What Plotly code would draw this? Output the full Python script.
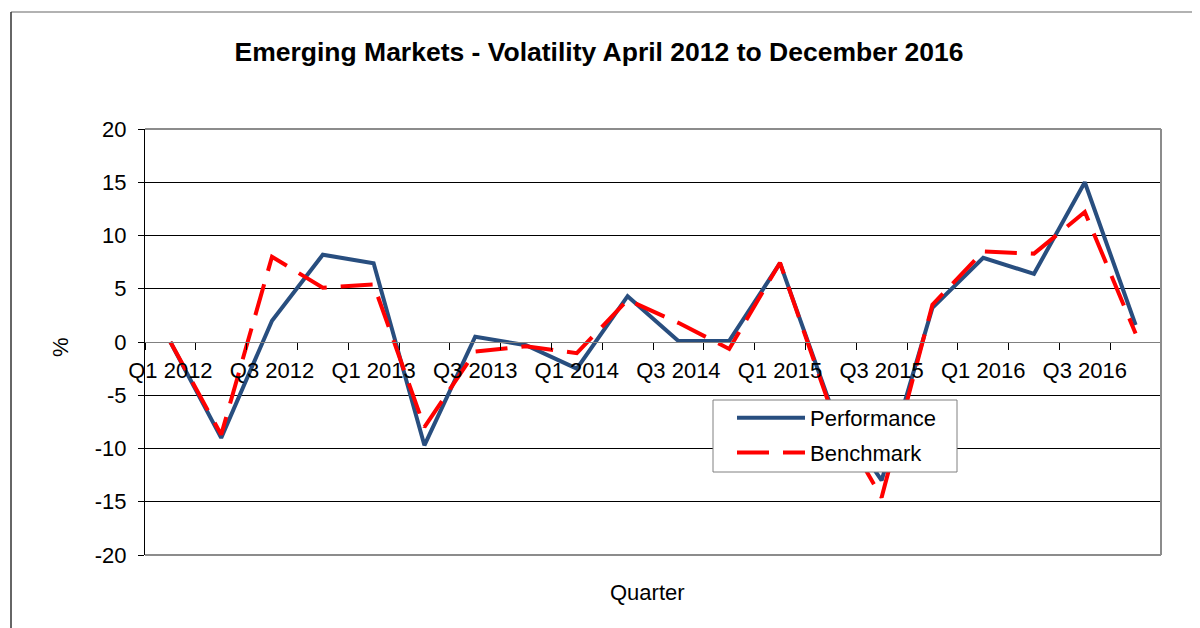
import plotly.graph_objects as go

quarters = ["Q1 2012", "Q2 2012", "Q3 2012", "Q4 2012",
            "Q1 2013", "Q2 2013", "Q3 2013", "Q4 2013",
            "Q1 2014", "Q2 2014", "Q3 2014", "Q4 2014",
            "Q1 2015", "Q2 2015", "Q3 2015", "Q4 2015",
            "Q1 2016", "Q2 2016", "Q3 2016", "Q4 2016"]
performance = [0.0, -9.0, 2.0, 8.2, 7.4, -9.7, 0.5, -0.3, -2.5, 4.3,
               0.1, 0.1, 7.4, -6.0, -13.0, 3.2, 7.9, 6.4, 15.0, 1.6]
benchmark = [0.0, -8.7, 8.0, 5.1, 5.4, -8.0, -0.9, -0.4, -1.05, 3.95,
             1.8, -0.65, 7.45, -6.3, -14.6, 3.5, 8.5, 8.3, 12.2, 0.8]
y_ticks = [-20, -15, -10, -5, 0, 5, 10, 15, 20]
y_tick_labels = ["-20", "-15", "-10", "-5", "0", "5", "10", "15", "20"]

FONT = "Liberation Sans, Arial, sans-serif"
FS = 22
idx = list(range(len(quarters)))
label_idx = idx[::2]
boundaries = [i - 0.5 for i in range(len(quarters) + 1)]

# page offset (browser body margin) compensation
OFF = 8
PL, PT, PW, PH = 145, 129, 1016, 426  # plot area in reference pixels


def px(x):
    return (x - PL) / PW


def py(y):
    return (PT + PH - y) / PH


fig = go.Figure()
fig.add_trace(go.Scatter(x=idx, y=performance, mode="lines", name="Performance",
                         legendgroup="a",
                         line=dict(color="#284E7F", width=4)))
fig.add_trace(go.Scatter(x=idx, y=benchmark, mode="lines", name="Benchmark",
                         legendgroup="b",
                         line=dict(color="#FF0000", width=4, dash="32px,14px")))

fig.update_layout(
    width=1200, height=628,
    margin=dict(l=PL - OFF, r=1200 - (PL - OFF) - PW, t=PT - OFF, b=628 - (PT - OFF) - PH),
    paper_bgcolor="white", plot_bgcolor="white",
    font=dict(family=FONT, size=FS, color="black"),
    title=dict(text="<b>Emerging Markets - Volatility April 2012 to December 2016</b>",
               x=(599 - OFF) / 1200, xanchor="center", y=1 - (52 - OFF) / 628, yanchor="middle",
               font=dict(family=FONT, size=26.5, color="black")),
    showlegend=True,
    legend=dict(x=px(732), y=py(397), xanchor="left", yanchor="top",
                bgcolor="rgba(0,0,0,0)", borderwidth=0, tracegroupgap=3,
                font=dict(family=FONT, size=FS, color="black"), itemwidth=68),
    xaxis=dict(range=[-0.5, len(quarters) - 0.5], tickmode="array",
               tickvals=label_idx, ticktext=[quarters[i] for i in label_idx],
               ticks="", showgrid=False, zeroline=False,
               showline=True, linecolor="#808080", linewidth=1,
               anchor="free", position=0.5, ticklabelstandoff=9,
               tickfont=dict(family=FONT, size=FS, color="black"),
               minor=dict(tickmode="array", tickvals=boundaries, ticks="outside",
                          ticklen=7, tickcolor="black", tickwidth=1, showgrid=False)),
    yaxis=dict(range=[-20, 20], tickmode="array", tickvals=y_ticks, ticktext=y_tick_labels,
               showgrid=True, gridcolor="black", gridwidth=1, zeroline=False,
               showline=True, linecolor="black", linewidth=1,
               ticks="outside", ticklen=6, tickcolor="black",
               ticklabelstandoff=7,
               tickfont=dict(family=FONT, size=FS, color="black")),
    annotations=[
        dict(text="%", xref="paper", yref="paper", x=px(60), y=py(347),
             showarrow=False, textangle=-90, font=dict(family=FONT, size=FS, color="black"),
             xanchor="center", yanchor="middle"),
        dict(text="Quarter", xref="paper", yref="paper", x=px(647), y=py(592),
             showarrow=False, font=dict(family=FONT, size=FS, color="black"),
             xanchor="center", yanchor="middle"),
    ],
    shapes=[
        # plot area border (top, right, bottom)
        dict(type="line", xref="paper", yref="paper", x0=0, x1=1, y0=1, y1=1,
             line=dict(color="#8c8c8c", width=2)),
        dict(type="line", xref="paper", yref="paper", x0=1, x1=1, y0=0, y1=1,
             line=dict(color="#8c8c8c", width=2)),
        dict(type="line", xref="paper", yref="paper", x0=0, x1=1, y0=0, y1=0,
             line=dict(color="#8c8c8c", width=2)),
        # legend box
        dict(type="rect", xref="paper", yref="paper", x0=px(713), x1=px(957),
             y0=py(472), y1=py(400), fillcolor="white",
             line=dict(color="#808080", width=1), layer="above"),
        # chart frame
        dict(type="line", xref="paper", yref="paper", x0=px(11), x1=1.06,
             y0=py(12), y1=py(12), line=dict(color="#999999", width=1.5)),
        dict(type="line", xref="paper", yref="paper", x0=px(11), x1=px(11),
             y0=py(12), y1=-0.25, line=dict(color="#333333", width=1.5)),
    ],
)

fig.write_html("out.html")
